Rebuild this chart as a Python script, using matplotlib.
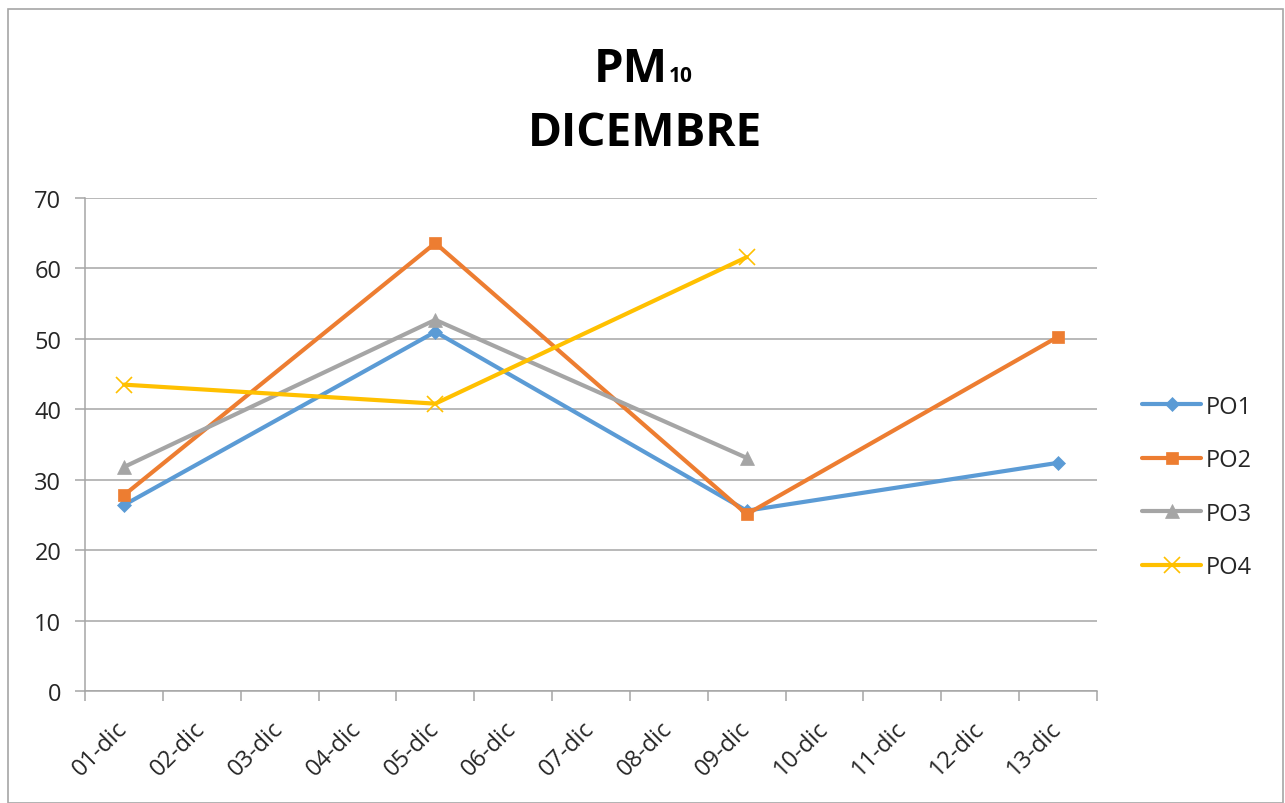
import matplotlib
matplotlib.use("Agg")
import matplotlib.pyplot as plt
from matplotlib.patches import Rectangle
import numpy as np

plt.rcParams['font.family'] = ['Open Sans', 'DejaVu Sans']

categories = ["01-dic", "02-dic", "03-dic", "04-dic", "05-dic", "06-dic", "07-dic",
              "08-dic", "09-dic", "10-dic", "11-dic", "12-dic", "13-dic"]
nan = np.nan
po1 = [26.4, nan, nan, nan, 51.0, nan, nan, nan, 25.6, nan, nan, nan, 32.4]
po2 = [27.8, nan, nan, nan, 63.6, nan, nan, nan, 25.1, nan, nan, nan, 50.3]
po3 = [31.8, nan, nan, nan, 52.7, nan, nan, nan, 33.1, nan, nan, nan, nan]
po4 = [43.5, nan, nan, nan, 40.8, nan, nan, nan, 61.6, nan, nan, nan, nan]
series_names = ["PO1", "PO2", "PO3", "PO4"]
yticks = [0, 10, 20, 30, 40, 50, 60, 70]

colors = ["#5B9BD5", "#ED7D31", "#A5A5A5", "#FFC000"]
markers = ["D", "s", "^", "x"]
msizes = [7.5, 9, 9.5, 11]

W, H = 1285, 804
fig = plt.figure(figsize=(W / 100, H / 100), dpi=100)
ax = fig.add_axes([85 / W, 1 - 692 / H, (1097 - 85) / W, (692 - 199) / H])

x = np.arange(len(categories))
for vals, name, c, m, ms in zip([po1, po2, po3, po4], series_names, colors, markers, msizes):
    v = np.array(vals, dtype=float)
    mask = ~np.isnan(v)
    ax.plot(x[mask], v[mask], color=c, lw=3.0, marker=m, markersize=ms,
            markeredgewidth=1.2 if m == "x" else 0.5, markeredgecolor=c,
            markerfacecolor=c, label=name, solid_capstyle='round')

ax.set_xlim(-0.5, len(categories) - 0.5)
ax.set_ylim(0, 70)
ax.set_yticks(yticks)
ax.grid(axis='y', color='#A6A6A6', lw=1.1)
ax.set_axisbelow(True)
for s in ['top', 'right']:
    ax.spines[s].set_visible(False)
for s in ['left', 'bottom']:
    ax.spines[s].set_color('#A6A6A6')
    ax.spines[s].set_linewidth(1.1)

ax.set_xticks(x)
ax.set_xticklabels(categories, rotation=45, ha='right', va='center',
                   rotation_mode='anchor', fontsize=17, color='#262626')
ax.tick_params(axis='x', which='major', length=0, pad=24)
ax.set_xticks(np.arange(-0.5, len(categories), 1.0), minor=True)
ax.tick_params(axis='x', which='minor', length=7, color='#A6A6A6', width=1.1)
ax.tick_params(axis='y', length=7, color='#A6A6A6', width=1.1, labelsize=17,
               labelcolor='#262626', pad=10)

leg = fig.legend(loc='center left', bbox_to_anchor=(1121 / W, 1 - 488 / H),
                 frameon=False, fontsize=17, handlelength=2.5, labelspacing=1.25,
                 handletextpad=0.2)
for t in leg.get_texts():
    t.set_color('#262626')

fig.text(668 / W, 1 - 82 / H, "PM", ha='right', va='baseline',
         fontsize=34, fontweight='bold', color='black')
fig.text(669 / W, 1 - 82 / H, "10", ha='left', va='baseline',
         fontsize=15, fontweight='bold', color='black')
fig.text(645 / W, 1 - 146 / H, "DICEMBRE", ha='center', va='baseline',
         fontsize=33, fontweight='bold', color='black')

fig.patches.append(Rectangle((8 / W, 0), (1283 - 8) / W, 1 - 10 / H,
                             transform=fig.transFigure, fill=False,
                             edgecolor='#A6A6A6', lw=1.2))

fig.savefig("out.png", dpi=100)
